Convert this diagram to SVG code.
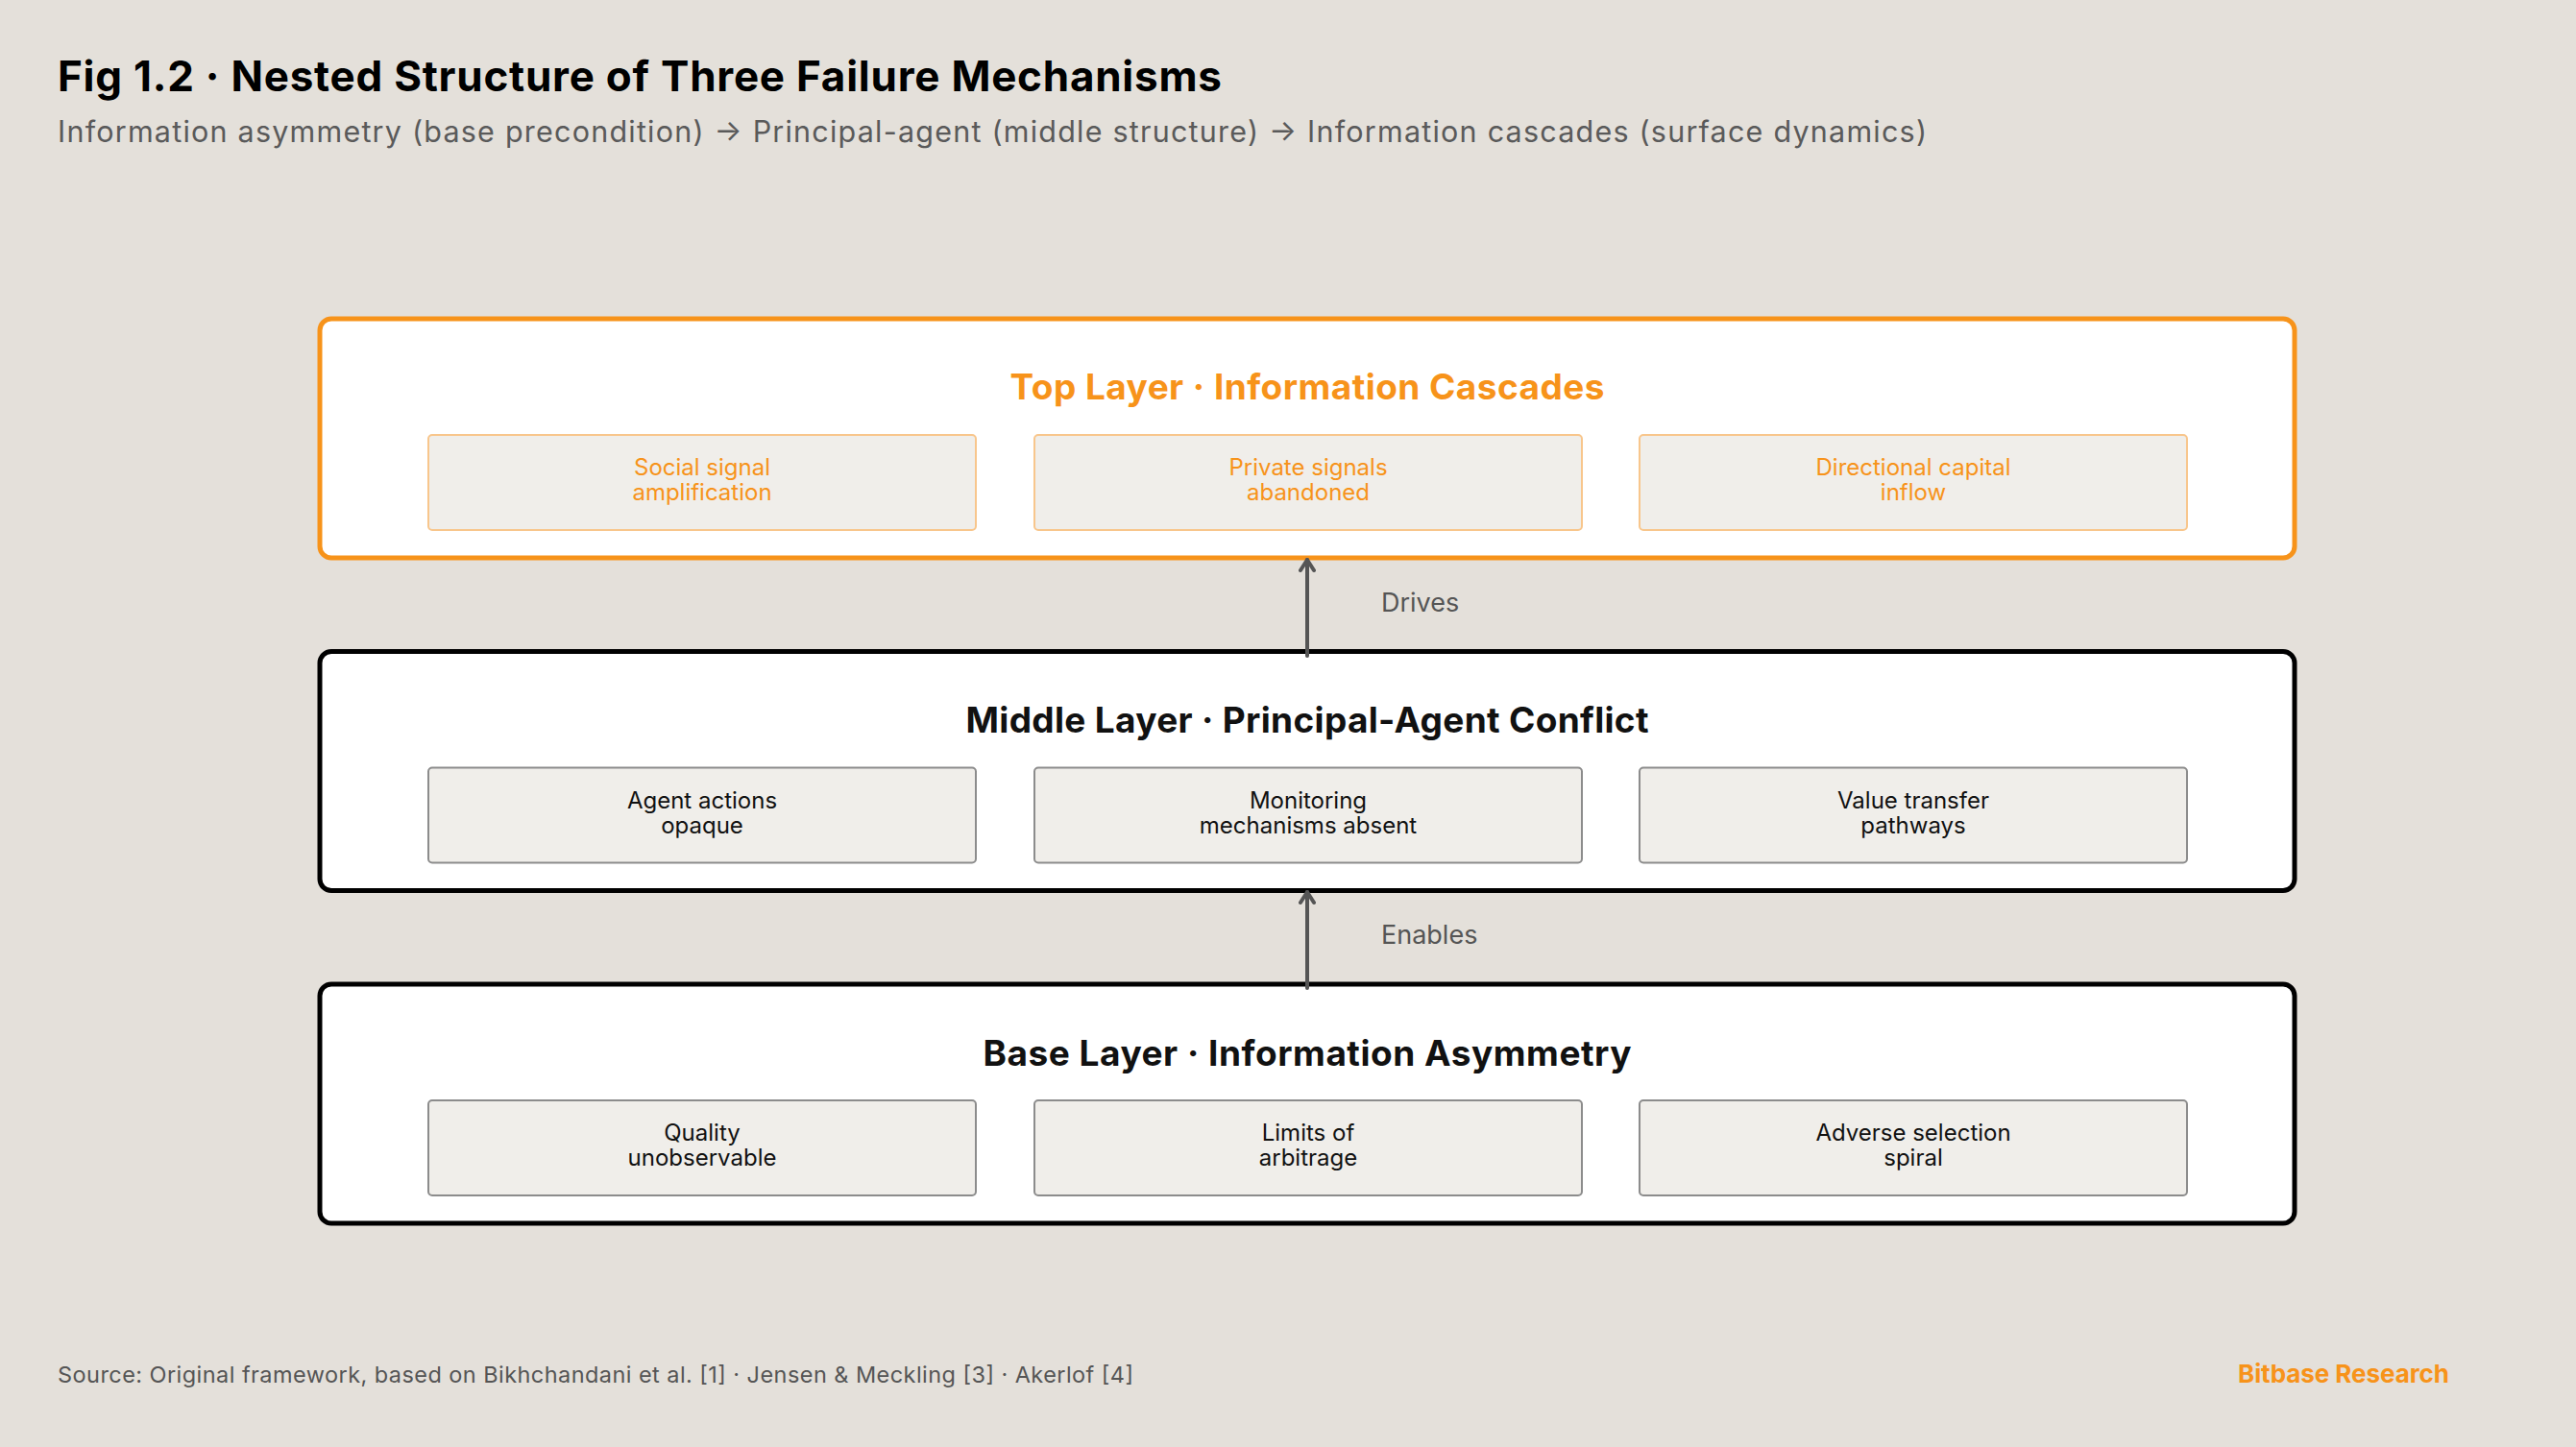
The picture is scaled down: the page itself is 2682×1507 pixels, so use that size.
<svg xmlns="http://www.w3.org/2000/svg" width="2682" height="1507" viewBox="0 0 2682 1507">
  <style>
    .sans { font-family: Inter, "Open Sans", "Liberation Sans", sans-serif; }
    .layer { fill: #ffffff; stroke-width: 5; }
    .layer-top { stroke: #F7931A; }
    .layer-dark { stroke: #000000; }
    .cell { fill: #F0EEEA; stroke-width: 2; }
    .cell-top { stroke: #F8C68C; }
    .cell-dark { stroke: #8C8C8C; }
    .ltitle { font-size: 37px; font-weight: 700; text-anchor: middle; }
    .ctext { font-size: 24px; font-weight: 400; text-anchor: middle; }
    .orange { fill: #F7931A; }
    .dark { fill: #111111; }
    .conn { stroke: #555555; stroke-width: 4; stroke-linecap: round; fill: none; }
    .clabel { font-size: 27px; fill: #555555; }
  </style>
  <defs>
    <marker id="arrowhead" viewBox="-14 -9 16 18" refX="0" refY="0" markerWidth="16" markerHeight="18" markerUnits="userSpaceOnUse" orient="auto">
      <path d="M-11,-7 L0,0 L-11,7" fill="none" stroke="#555555" stroke-width="4" stroke-linecap="round" stroke-linejoin="round"/>
    </marker>
  </defs>

  <rect x="0" y="0" width="2682" height="1507" fill="#E4E0DA"/>

  <g id="header" class="sans">
    <text x="60" y="95" font-size="44" font-weight="700" fill="#000000" textLength="1212">Fig 1.2 · Nested Structure of Three Failure Mechanisms</text>
    <text x="60" y="148" font-size="30.5" fill="#5A5A5A" textLength="1946">Information asymmetry (base precondition) → Principal-agent (middle structure) → Information cascades (surface dynamics)</text>
  </g>

  <g id="top-layer" class="sans">
    <rect class="layer layer-top" x="333" y="332" width="2056" height="249" rx="12"/>
    <text class="ltitle orange" x="1361" y="416" textLength="619">Top Layer · Information Cascades</text>
    <g id="top-cell-1">
      <rect class="cell cell-top" x="446" y="453" width="570" height="99" rx="4"/>
      <text class="ctext orange" x="731" y="495">Social signal</text>
      <text class="ctext orange" x="731" y="521">amplification</text>
    </g>
    <g id="top-cell-2">
      <rect class="cell cell-top" x="1077" y="453" width="570" height="99" rx="4"/>
      <text class="ctext orange" x="1362" y="495">Private signals</text>
      <text class="ctext orange" x="1362" y="521">abandoned</text>
    </g>
    <g id="top-cell-3">
      <rect class="cell cell-top" x="1707" y="453" width="570" height="99" rx="4"/>
      <text class="ctext orange" x="1992" y="495">Directional capital</text>
      <text class="ctext orange" x="1992" y="521">inflow</text>
    </g>
  </g>

  <g id="middle-layer" class="sans">
    <rect class="layer layer-dark" x="333" y="678.5" width="2056" height="249" rx="12"/>
    <text class="ltitle dark" x="1361" y="763" textLength="711">Middle Layer · Principal-Agent Conflict</text>
    <g id="middle-cell-1">
      <rect class="cell cell-dark" x="446" y="799.5" width="570" height="99" rx="4"/>
      <text class="ctext dark" x="731" y="841.5">Agent actions</text>
      <text class="ctext dark" x="731" y="867.5">opaque</text>
    </g>
    <g id="middle-cell-2">
      <rect class="cell cell-dark" x="1077" y="799.5" width="570" height="99" rx="4"/>
      <text class="ctext dark" x="1362" y="841.5">Monitoring</text>
      <text class="ctext dark" x="1362" y="867.5">mechanisms absent</text>
    </g>
    <g id="middle-cell-3">
      <rect class="cell cell-dark" x="1707" y="799.5" width="570" height="99" rx="4"/>
      <text class="ctext dark" x="1992" y="841.5">Value transfer</text>
      <text class="ctext dark" x="1992" y="867.5">pathways</text>
    </g>
  </g>

  <g id="base-layer" class="sans">
    <rect class="layer layer-dark" x="333" y="1025" width="2056" height="249" rx="12"/>
    <text class="ltitle dark" x="1361" y="1110" textLength="675">Base Layer · Information Asymmetry</text>
    <g id="base-cell-1">
      <rect class="cell cell-dark" x="446" y="1146" width="570" height="99" rx="4"/>
      <text class="ctext dark" x="731" y="1188">Quality</text>
      <text class="ctext dark" x="731" y="1214">unobservable</text>
    </g>
    <g id="base-cell-2">
      <rect class="cell cell-dark" x="1077" y="1146" width="570" height="99" rx="4"/>
      <text class="ctext dark" x="1362" y="1188">Limits of</text>
      <text class="ctext dark" x="1362" y="1214">arbitrage</text>
    </g>
    <g id="base-cell-3">
      <rect class="cell cell-dark" x="1707" y="1146" width="570" height="99" rx="4"/>
      <text class="ctext dark" x="1992" y="1188">Adverse selection</text>
      <text class="ctext dark" x="1992" y="1214">spiral</text>
    </g>
  </g>

  <g id="connectors" class="sans">
    <line class="conn" x1="1361" y1="683" x2="1361" y2="583" marker-end="url(#arrowhead)"/>
    <text class="clabel" x="1438" y="637">Drives</text>
    <line class="conn" x1="1361" y1="1029" x2="1361" y2="929" marker-end="url(#arrowhead)"/>
    <text class="clabel" x="1438" y="983">Enables</text>
  </g>

  <g id="footer" class="sans">
    <text x="60" y="1440" font-size="23.5" fill="#555555" textLength="1120">Source: Original framework, based on Bikhchandani et al. [1] · Jensen &amp; Meckling [3] · Akerlof [4]</text>
    <text x="2330" y="1440" font-size="26" font-weight="700" fill="#F7931A" textLength="220">Bitbase Research</text>
  </g>
</svg>
